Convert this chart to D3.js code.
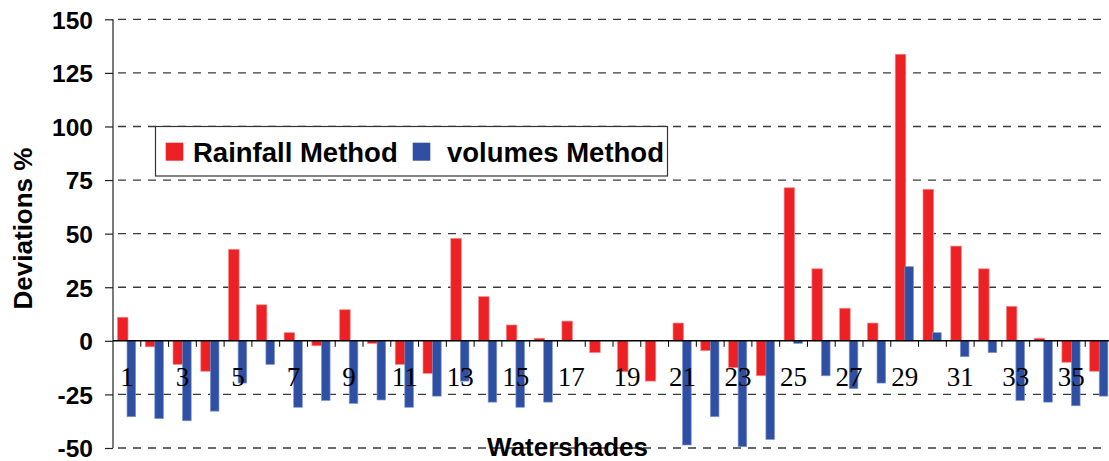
<!DOCTYPE html>
<html>
<head>
<meta charset="utf-8">
<script src="https://cdn.jsdelivr.net/npm/d3@7"></script>
<style>
html,body{margin:0;padding:0;background:#fff;overflow:hidden;}
svg{display:block;}
</style>
</head>
<body>
<svg id="chart" width="1109" height="461"></svg>
<script>
const categories = d3.range(1, 37);
const rainfall = [11.0, -2.8, -11.0, -14.2, 42.7, 16.8, 3.8, -2.3, 14.5, -1.2,
  -11.0, -15.2, 47.8, 20.6, 7.4, 1.2, 9.2, -5.5, -14.4, -18.8,
  8.3, -4.6, -12.5, -16.3, 71.4, 33.6, 15.2, 8.3, 133.7, 70.7,
  44.2, 33.6, 16.1, 1.2, -10.0, -14.2];
const volumes = [-35.4, -36.3, -37.3, -32.8, -19.7, -11.0, -31.0, -27.8, -29.2, -27.6,
  -31.0, -25.8, -18.8, -28.6, -31.0, -28.6, 0, 0, 0, 0,
  -48.6, -35.4, -49.4, -46.0, -1.2, -16.3, -22.3, -19.7, 34.6, 3.8,
  -7.4, -5.5, -27.8, -28.6, -30.3, -25.8];
const yTicks = [-50, -25, 0, 25, 50, 75, 100, 125, 150];
const xTickLabels = categories.filter(d => d % 2 === 1);
const seriesNames = ["Rainfall Method", "volumes Method"];
const seriesColors = ["#ED2124", "#2F4FA2"];

const svg = d3.select("#chart");
const pLeft = 113, pRight = 1113, pTop = 19.3, pBottom = 448;

const x = d3.scaleBand().domain(categories).range([pLeft, pRight]).paddingInner(0).paddingOuter(0);
const y = d3.scaleLinear().domain([-50, 150]).range([pBottom, pTop]);
const bw = x.bandwidth();

// gridlines
svg.append("g").selectAll("line")
  .data(yTicks.filter(d => d !== 0))
  .join("line")
  .attr("x1", pLeft).attr("x2", 1106)
  .attr("y1", d => y(d)).attr("y2", d => y(d))
  .attr("stroke", "#3a3a3a").attr("stroke-width", 1.3)
  .attr("stroke-dasharray", "8,7")
  .attr("stroke-dashoffset", -5);

// y axis
const yAxis = d3.axisLeft(y).tickValues(yTicks).tickSize(8).tickPadding(12).tickFormat(d => String(d));
const gy = svg.append("g").attr("transform", `translate(${pLeft},0)`).call(yAxis);
gy.select(".domain").attr("stroke", "#222").attr("stroke-width", 1.2).attr("d", `M-0,${pBottom}V${pTop}`);
gy.selectAll(".tick line").attr("stroke", "#222").attr("stroke-width", 1.2);
gy.selectAll(".tick text")
  .attr("font-family", "'Liberation Sans', Arial, sans-serif")
  .attr("font-weight", "bold").attr("font-size", 24.5).attr("fill", "#000")
  .attr("dy", "0.36em");

// bars
const gBars = svg.append("g");
gBars.selectAll("rect.r")
  .data(categories)
  .join("rect").attr("class", "r")
  .attr("x", d => x(d) + bw * 0.16)
  .attr("width", bw * 0.38)
  .attr("y", (d, i) => y(Math.max(0, rainfall[i])))
  .attr("height", (d, i) => Math.abs(y(rainfall[i]) - y(0)))
  .attr("fill", seriesColors[0])
  .attr("stroke", "#f38c8c").attr("stroke-width", 0.7);
gBars.selectAll("rect.b")
  .data(categories)
  .join("rect").attr("class", "b")
  .attr("x", d => x(d) + bw * 0.505)
  .attr("width", bw * 0.31)
  .attr("y", (d, i) => y(Math.max(0, volumes[i])))
  .attr("height", (d, i) => Math.abs(y(volumes[i]) - y(0)))
  .attr("fill", seriesColors[1])
  .attr("stroke", "#7f95cc").attr("stroke-width", 0.7);

// x axis (zero line) with ticks at category boundaries
svg.append("line")
  .attr("x1", pLeft).attr("x2", pRight)
  .attr("y1", y(0)).attr("y2", y(0))
  .attr("stroke", "#000").attr("stroke-width", 1.5);
svg.append("g").selectAll("line")
  .data(categories.slice(1))
  .join("line")
  .attr("x1", d => x(d)).attr("x2", d => x(d))
  .attr("y1", y(0)).attr("y2", y(0) + 6)
  .attr("stroke", "#000").attr("stroke-width", 1);

// x tick labels
svg.append("g").selectAll("text")
  .data(xTickLabels)
  .join("text")
  .attr("x", d => x(d) + bw / 2)
  .attr("y", 385.5)
  .attr("text-anchor", "middle")
  .attr("font-family", "'Liberation Serif', 'Times New Roman', serif")
  .attr("font-size", 27).attr("fill", "#000")
  .text(d => d);

// axis titles
svg.append("text")
  .attr("transform", "translate(32,228.5) rotate(-90)")
  .attr("text-anchor", "middle")
  .attr("font-family", "'Liberation Sans', Arial, sans-serif")
  .attr("font-weight", "bold").attr("font-size", 26).attr("fill", "#000")
  .text("Deviations %");
svg.append("text")
  .attr("x", 567.5).attr("y", 456)
  .attr("text-anchor", "middle")
  .attr("font-family", "'Liberation Sans', Arial, sans-serif")
  .attr("font-weight", "bold").attr("font-size", 26).attr("fill", "#000")
  .text("Watershades");

// legend
const lg = svg.append("g");
lg.append("rect")
  .attr("x", 155.5).attr("y", 126.5).attr("width", 512).attr("height", 49.5)
  .attr("fill", "#fff").attr("stroke", "#333").attr("stroke-width", 1.2);
const legendItems = [
  {name: seriesNames[0], color: seriesColors[0], sx: 165.7, tx: 193},
  {name: seriesNames[1], color: seriesColors[1], sx: 412.7, tx: 447}
];
legendItems.forEach(it => {
  lg.append("rect").attr("x", it.sx).attr("y", 142.7).attr("width", 17.6).attr("height", 18)
    .attr("fill", it.color);
  lg.append("text").attr("x", it.tx).attr("y", 161.5)
    .attr("font-family", "'Liberation Sans', Arial, sans-serif")
    .attr("font-weight", "bold").attr("font-size", 27.5).attr("fill", "#000")
    .text(it.name);
});
</script>
</body>
</html>
